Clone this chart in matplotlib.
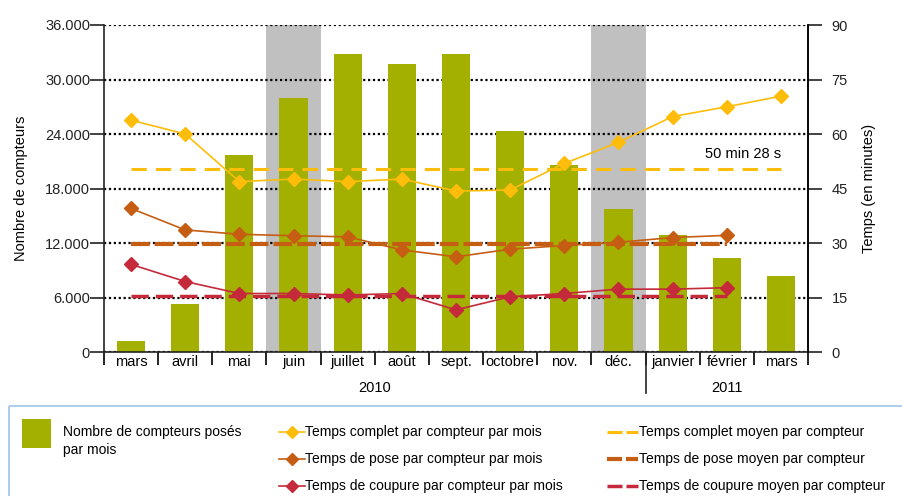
import numpy as np
import matplotlib.pyplot as plt
from matplotlib.patches import Rectangle
from matplotlib.ticker import FuncFormatter

plt.rcParams['font.family'] = ['Liberation Sans', 'DejaVu Sans']

mois = ['mars', 'avril', 'mai', 'juin', 'juillet', 'août', 'sept.',
        'octobre', 'nov.', 'déc.', 'janvier', 'février', 'mars']
compteurs = [1200, 5300, 21700, 28000, 32800, 31700, 32800,
             24300, 20600, 15700, 12900, 10400, 8400]
t_complet = [63.8, 60.0, 46.9, 47.6, 46.9, 47.6, 44.3,
             44.6, 51.9, 57.7, 64.8, 67.5, 70.4]
t_pose = [39.5, 33.6, 32.4, 32.0, 31.7, 28.1, 26.2,
          28.3, 29.3, 30.2, 31.5, 32.1]
t_coupure = [24.1, 19.4, 16.1, 16.1, 15.7, 16.1, 11.6,
             15.2, 16.1, 17.3, 17.3, 17.7]
moy_complet = 50 + 28 / 60
moy_pose = 29.7
moy_coupure = 15.4
mois_gris = [3, 9]
annees = [('2010', 0, 10), ('2011', 10, 13)]

c_bar = '#a3b000'
c_jaune = '#fdbd0a'
c_orange = '#c55e12'
c_rouge = '#c42a39'

fig = plt.figure(figsize=(9.02, 4.96), dpi=100)
ax = fig.add_axes([104 / 902, 1 - 352 / 496, 704 / 902, 327 / 496])
x = np.arange(len(mois))

for i in mois_gris:
    ax.axvspan(i - 0.5, i + 0.5, color='#c0c0c0', zorder=0, lw=0)
ax.bar(x, compteurs, width=0.52, color=c_bar, zorder=2)
ax.set_xlim(-0.5, len(mois) - 0.5)
ax.set_ylim(0, 36000)
ax.set_yticks(np.arange(0, 36001, 6000))
ax.yaxis.set_major_formatter(FuncFormatter(lambda v, p: f'{int(v):,}'.replace(',', '.')))
ax.yaxis.grid(True, color='black', linestyle=(0, (1, 1.2)), linewidth=1.6)
for gl in ax.get_ygridlines():
    gl.set_zorder(1)
ax.tick_params(axis='y', length=10, width=1.2, pad=0, labelsize=10.5, colors='#222222')
ax.set_ylabel('Nombre de compteurs', fontsize=10.5, labelpad=12)

ax.set_xticks(x)
ax.set_xticklabels(mois, fontsize=10.5)
ax.set_xticks(np.arange(-0.5, len(mois), 1), minor=True)
ax.tick_params(axis='x', which='major', length=0, pad=2)
ax.tick_params(axis='x', which='minor', length=9.5, width=1.2)
ax.spines['top'].set_visible(False)
for s in ['left', 'right', 'bottom']:
    ax.spines[s].set_linewidth(1.2)
    ax.spines[s].set_color('#222222')

# année sous les mois
for nom, a, b in annees:
    ax.text((a + b - 1) / 2, -0.11, nom, transform=ax.get_xaxis_transform(),
            ha='center', va='center', fontsize=10.5)
ax.plot([9.5, 9.5], [0, -0.125], transform=ax.get_xaxis_transform(),
        color='#222222', lw=1.2, clip_on=False)

ax2 = ax.twinx()
ax2.set_ylim(0, 90)
ax2.set_yticks(np.arange(0, 91, 15))
ax2.tick_params(axis='y', length=10, width=1.2, pad=7, labelsize=10.5, colors='#222222')
ax2.set_ylabel('Temps (en minutes)', fontsize=10.5, labelpad=10)
for s in ['top', 'left', 'bottom']:
    ax2.spines[s].set_visible(False)
ax2.spines['right'].set_linewidth(1.2)

ax2.plot(x, t_complet, color=c_jaune, lw=1.2, marker='D', ms=7, zorder=4)
ax2.plot(x[:len(t_pose)], t_pose, color=c_orange, lw=1.2, marker='D', ms=7, zorder=4)
ax2.plot(x[:len(t_coupure)], t_coupure, color=c_rouge, lw=1.2, marker='D', ms=7, zorder=4)
ax2.plot([x[0], x[-1]], [moy_complet] * 2, color=c_jaune, lw=2.2, ls=(0, (5, 3)), zorder=3)
ax2.plot([x[0], x[len(t_pose) - 1]], [moy_pose] * 2, color=c_orange, lw=3, ls=(0, (4.5, 1.2)), zorder=3)
ax2.plot([x[0], x[len(t_coupure) - 1]], [moy_coupure] * 2, color=c_rouge, lw=2.5, ls=(0, (5, 2)), zorder=3)
ax2.text(x[-1], moy_complet + 2.2, '50 min 28 s', ha='right', va='bottom', fontsize=10.5)

# légende
lax = fig.add_axes([0, 0, 1, 1])
lax.set_xlim(0, 902)
lax.set_ylim(496, 0)
lax.axis('off')
lax.add_patch(Rectangle((8.5, 405.5), 920, 100, fill=False, ec='#9dc3e6', lw=1.2))
lax.add_patch(Rectangle((22, 419), 29, 29, color=c_bar, lw=0))
fnt = dict(fontsize=10, va='center')
lax.text(63, 432, 'Nombre de compteurs posés', **fnt)
lax.text(63, 450, 'par mois', **fnt)
rows = [432, 459, 486]
cols = [c_jaune, c_orange, c_rouge]
txt_l = ['Temps complet par compteur par mois', 'Temps de pose par compteur par mois',
         'Temps de coupure par compteur par mois']
txt_m = ['Temps complet moyen par compteur', 'Temps de pose moyen par compteur',
         'Temps de coupure moyen par compteur']
lws = [2.2, 3, 2.5]
for r, c, t1, t2, w in zip(rows, cols, txt_l, txt_m, lws):
    lax.plot([279, 305], [r, r], color=c, lw=1.2)
    lax.plot([292], [r], marker='D', ms=6.5, color=c)
    lax.text(305, r, t1, **fnt)
    lax.plot([607, 622], [r, r], color=c, lw=w, solid_capstyle='butt')
    lax.plot([626, 638], [r, r], color=c, lw=w, solid_capstyle='butt')
    lax.text(639, r, t2, **fnt)

plt.savefig('out.png', dpi=100)
